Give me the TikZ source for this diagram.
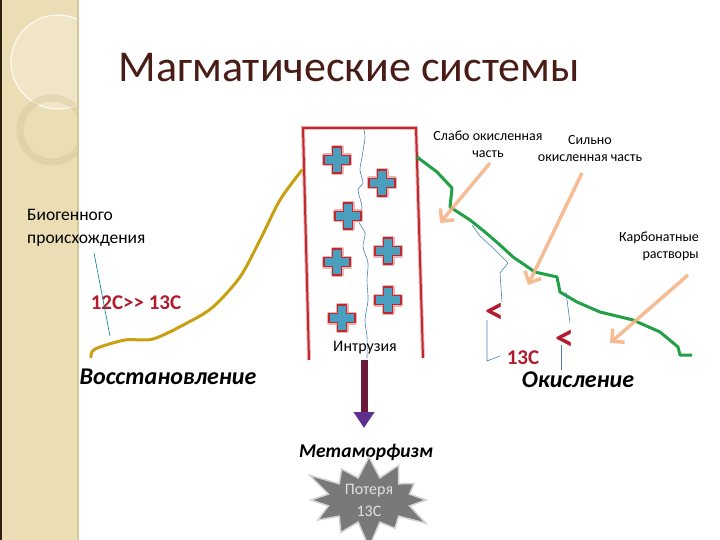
\documentclass[tikz,border=0pt]{standalone}
\usepackage{fontspec}
\setmainfont{Carlito}
\usetikzlibrary{arrows.meta,shapes.symbols,positioning}

\definecolor{bandbeige}{HTML}{EBDDB4}
\definecolor{bandedge}{HTML}{D6C69C}
\definecolor{titlebrown}{HTML}{4A1C16}
\definecolor{intrred}{HTML}{C0282D}
\definecolor{plusteal}{HTML}{4A9EBE}
\definecolor{reducgold}{HTML}{C9A012}
\definecolor{oxgreen}{HTML}{22A046}
\definecolor{pointorange}{HTML}{F5B182}
\definecolor{thinblue}{HTML}{4A7FB0}
\definecolor{isored}{HTML}{B01C2C}
\definecolor{arrowmaroon}{HTML}{6C1A3C}
\definecolor{arrowpurple}{HTML}{5E2F8F}

\tikzset{
  small text/.style={font=\fontsize{14}{17}\selectfont, inner sep=0pt},
  big italic/.style={font=\fontsize{24}{26}\selectfont\bfseries\itshape, inner sep=0pt},
  iso text/.style={font=\fontsize{21}{23}\selectfont\bfseries, text=isored, inner sep=0pt},
  less sign/.style={font=\fontsize{38}{40}\selectfont\bfseries, text=isored, inner sep=0pt},
  pointer/.style={pointorange, line width=3.5pt, opacity=.85,
    -{Straight Barb[length=9pt,width=18pt]}},
  thin trace/.style={thinblue, line width=.6pt},
  magplus/.pic={
    \draw[intrred!35, line width=4pt, line join=round]
      (-4.5,-13) -- (4.5,-13) -- (4.5,-4.5) -- (13,-4.5) -- (13,4.5) -- (4.5,4.5)
      -- (4.5,13) -- (-4.5,13) -- (-4.5,4.5) -- (-13,4.5) -- (-13,-4.5) -- (-4.5,-4.5) -- cycle;
    \draw[intrred, line width=1.6pt, fill=plusteal, line join=round]
      (-4.5,-13) -- (4.5,-13) -- (4.5,-4.5) -- (13,-4.5) -- (13,4.5) -- (4.5,4.5)
      -- (4.5,13) -- (-4.5,13) -- (-4.5,4.5) -- (-13,4.5) -- (-13,-4.5) -- (-4.5,-4.5) -- cycle;
  }
}

\begin{document}
\begin{tikzpicture}[x=1pt, y=-1pt]
\useasboundingbox (0,0) rectangle (720,540);

% left band
\fill[bandbeige] (0,0) rectangle (78,540);
\begin{scope}
  \clip (0,0) rectangle (78,540);
  \fill[white, opacity=.25] (58,62) circle (47);
  \draw[white, opacity=.8, line width=1.2pt] (58,62) circle (47);
  \draw[bandedge, opacity=.45, line width=7pt] (52,130) circle (32);
\end{scope}
\draw[bandedge, line width=1.5pt] (78,0) -- (78,540);
\fill[black!75!brown] (0,0) rectangle (2,540);

% title
\node[font=\fontsize{44}{48}\selectfont, text=titlebrown, inner sep=0pt] (title) at (349,68) {Магматические системы};

% intrusion body
\draw[intrred!30, line width=4pt] (309,360) -- (303,128) -- (416,128) -- (423,358);
\draw[intrred, line width=2pt] (309,360) -- (303,128) -- (416,128) -- (423,358);
\draw[thin trace] plot[smooth] coordinates {(363,127) (365,137) (362,157) (360,170) (363,183)
  (358,190) (362,207) (358,220) (365,233) (363,247) (368,263) (367,280) (368,300)
  (365,320) (367,337) (367,358)};

\foreach \px/\py in {337/160, 382/183, 348/216, 388/251, 337/262, 388/300, 342/318}
  \pic at (\px,\py) {magplus};

\node[font=\fontsize{16}{18}\selectfont, inner sep=0pt] (intr) at (365,348) {Интрузия};

% reduction side
\draw[reducgold, line width=3pt, line cap=round] plot[smooth] coordinates {(91,357) (95,349) (125,340)
  (153,339) (187,323) (213,307) (240,277) (260,240) (280,200) (302,170)};
\node[font=\fontsize{17.5}{23}\selectfont, inner sep=0pt, align=left, anchor=west] (biog) at (27,228) {Биогенного\\происхождения};
\node[iso text] (ratio) at (136,303) {12С>{}> 13С};
\node[big italic] (reduc) at (168,377) {Восстановление};
\coordinate (biogstart) at (94,253);
\coordinate (biogend) at (110,336);
\draw[thin trace, teal] (biogstart) -- (biogend);

% oxidation side
\draw[oxgreen, line width=3pt, line join=round] (417,157) -- (437,172) -- (452,188) -- (450,207)
  -- (470,220) -- (485,232) -- (500,245) -- (513,257) -- (535,272) -- (557,277) -- (560,292)
  -- (577,302) -- (600,312) -- (633,320) -- (660,332) -- (678,347) -- (680,355) -- (692,355);

\draw[thin trace] (472,225) -- (480,236) -- (493,248) -- (508,263) -- (500,273) -- (502,302);
\draw[thin trace] (487,320) -- (487,361) -- (500,356);
\draw[thin trace] (566,292) -- (570,323);
\draw[thin trace] (561,345) -- (561,370);

\node[less sign] (lessA) at (495,313) {<};
\node[less sign] (lessB) at (565,340) {<};
\node[iso text] (iso) at (523,358) {13С};
\node[big italic] (oxid) at (578,380) {Окисление};

\node[small text, align=center] (weak) at (488,144) {Слабо окисленная\\часть};
\node[small text, align=center] (strong) at (590,149) {Сильно\\окисленная часть};
\node[small text, align=right, anchor=east] (carb) at (699,246) {Карбонатные\\растворы};

\coordinate (weaktail) at (490,163);
\coordinate (weakhead) at (440,223);
\coordinate (strongtail) at (582,173);
\coordinate (stronghead) at (528,285);
\coordinate (carbtail) at (688,275);
\coordinate (carbhead) at (610,343);
\draw[pointer] (weaktail) -- (weakhead);
\draw[pointer] (strongtail) -- (stronghead);
\draw[pointer] (carbtail) -- (carbhead);

% metamorphism
\coordinate (intrbase) at (364,360);
\node[font=\fontsize{19.5}{22}\selectfont\bfseries\itshape, inner sep=0pt] (meta) at (366,452) {Метаморфизм};
\draw[arrowmaroon, line width=7pt, -{Triangle[length=16pt,width=20pt,color=arrowpurple]}]
  (intrbase) -- (364,428);
\node[starburst, starburst points=12, starburst point height=28pt, fill=gray!95!black,
  draw=gray!35, line width=1.5pt, minimum width=140pt, minimum height=80pt,
  align=center, text=gray!25, font=\fontsize{16}{22}\selectfont, inner sep=0pt]
  (loss) at (369,500) {Потеря\\13С};
\end{tikzpicture}
\end{document}
